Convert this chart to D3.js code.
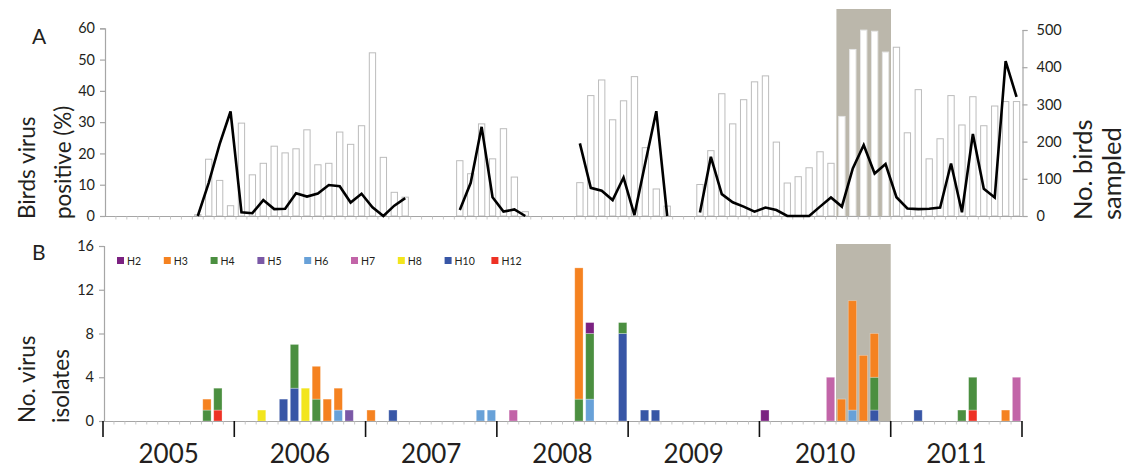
<!DOCTYPE html>
<html><head><meta charset="utf-8">
<script src="https://cdn.jsdelivr.net/npm/d3@7"></script>
<style>
html,body{margin:0;padding:0;background:#fff;}
svg{display:block;font-family:Lato,"Open Sans",sans-serif;}
</style></head>
<body><svg id="c" width="1131" height="469"></svg>
<script>
// ---------- DATA ----------
const years = ["2005","2006","2007","2008","2009","2010","2011"];
const nMonths = 84;
// Panel A: birds sampled per month (right axis), null = no sampling
const birdsSampled = [
 null,null,null,null,null,null,null,null,5,154,97,29,251,112,143,189,171,182,233,139,143,227,194,244,
 440,159,65,52,null,null,null,null,150,115,249,155,236,106,13,null,null,null,null,91,325,367,260,311,
 376,185,74,28,null,null,86,177,330,249,314,362,378,200,90,107,131,174,143,269,449,501,498,442,
 455,225,341,155,209,325,246,322,244,297,309,309];
// Panel A: birds virus positive (%) per month (left axis)
const positivePct = [
 null,null,null,null,null,null,null,null,0,10.6,23,33.4,1.2,0.9,5.1,2.2,2.3,7.3,6.2,7.2,9.9,9.5,4.3,7.1,
 2.8,0,3.3,5.7,null,null,null,null,1.9,10.6,28.5,6,1.4,2.1,0,null,null,null,null,23.2,9,8.1,5.1,12.3,
 0.3,17.1,33.5,0,null,null,1.1,18.9,7,4.4,3,1.4,2.7,1.9,0,0,0,3,5.9,3,15.2,22.7,13.6,16.6,
 6,2.4,2.2,2.3,2.7,16.8,1.2,26.2,8.7,5.9,49.5,38.1];
// Highlighted period (month indices, inclusive)
const shadeMonths = [67, 71];
// Panel B: virus isolates per subtype at months with isolates
const subtypes = ["H2","H3","H4","H5","H6","H7","H8","H10","H12"];
const subtypeColors = ["#7b2181","#f58220","#4b8f40","#7a58a6","#68a1d8","#c264a8","#f2e51d","#3856a6","#ee3124"];
const isoMonths = [9,10,14,16,17,18,19,20,21,22,24,26,34,35,37,43,44,47,49,50,60,66,67,68,69,70,74,78,79,82,83];
const isoH2  = [0,0,0,0,0,0,0,0,0,0,0,0,0,0,0,0,1,0,0,0,1,0,0,0,0,0,0,0,0,0,0];
const isoH3  = [1,0,0,0,0,0,3,2,2,0,1,0,0,0,0,12,0,0,0,0,0,0,2,10,6,4,0,0,0,1,0];
const isoH4  = [1,2,0,0,4,0,2,0,0,0,0,0,0,0,0,2,6,1,0,0,0,0,0,0,0,3,0,1,3,0,0];
const isoH5  = [0,0,0,0,0,0,0,0,0,1,0,0,0,0,0,0,0,0,0,0,0,0,0,0,0,0,0,0,0,0,0];
const isoH6  = [0,0,0,0,0,0,0,0,1,0,0,0,1,1,0,0,2,0,0,0,0,0,0,1,0,0,0,0,0,0,0];
const isoH7  = [0,0,0,0,0,0,0,0,0,0,0,0,0,0,1,0,0,0,0,0,0,4,0,0,0,0,0,0,0,0,4];
const isoH8  = [0,0,1,0,0,3,0,0,0,0,0,0,0,0,0,0,0,0,0,0,0,0,0,0,0,0,0,0,0,0,0];
const isoH10 = [0,0,0,2,3,0,0,0,0,0,0,1,0,0,0,0,0,8,1,1,0,0,0,0,0,1,1,0,0,0,0];
const isoH12 = [0,1,0,0,0,0,0,0,0,0,0,0,0,0,0,0,0,0,0,0,0,0,0,0,0,0,0,0,1,0,0];
const pctTicks = [0,10,20,30,40,50,60];
const birdTicks = [0,100,200,300,400,500];
const isoTicks = [0,4,8,12,16];

// ---------- BUILD ----------
const svg = d3.select("#c");
const months = d3.range(nMonths);
const isoBySub = {H2:isoH2,H3:isoH3,H4:isoH4,H5:isoH5,H6:isoH6,H7:isoH7,H8:isoH8,H10:isoH10,H12:isoH12};
const color = d3.scaleOrdinal(subtypes, subtypeColors);
const axisGray = "#a6a6a6", txt = "#231f20";

// Panel A scales
const xA = d3.scaleBand(months, [105, 1022]).paddingInner(0.33).paddingOuter(0.165);
const yPct = d3.scaleLinear([0, 60], [216, 28.3]);
const yBird = d3.scaleLinear([0, 500], [216, 30]);
// Panel B scales
const xB = d3.scaleBand(months, [103, 1022]).paddingInner(0.24).paddingOuter(0.12);
const yIso = d3.scaleLinear([0, 16], [421, 246]);

const gA = svg.append("g");
// shading A
gA.append("rect")
  .attr("x", xA(shadeMonths[0]) - xA.step()*xA.paddingInner()/2)
  .attr("width", xA.step()*(shadeMonths[1]-shadeMonths[0]+1))
  .attr("y", 9).attr("height", yPct(0) - 9)
  .attr("fill", "#bbb7ab");

// bars A
gA.selectAll("rect.b").data(months.filter(i => birdsSampled[i] != null)).join("rect")
  .attr("class","b")
  .attr("x", i => xA(i) + 0.5).attr("width", xA.bandwidth() - 1)
  .attr("y", i => yBird(birdsSampled[i]) + 0.5)
  .attr("height", i => Math.max(0, yBird(0) - yBird(birdsSampled[i]) - 0.5))
  .attr("fill", "#fff")
  .attr("stroke", i => (i >= shadeMonths[0] && i <= shadeMonths[1]) ? "#e6e6e6" : "#bcbcbc")
  .attr("stroke-width", 1);

// left axis A
const axL = gA.append("g").attr("transform", "translate(105,0)")
  .call(d3.axisLeft(yPct).tickValues(pctTicks).tickSize(5).tickPadding(5));
// right axis A
const axR = gA.append("g").attr("transform", "translate(1022.5,0)")
  .call(d3.axisRight(yBird).tickValues(birdTicks).tickSize(5).tickPadding(9));
// bottom axis A
gA.append("line").attr("x1", 100).attr("x2", 1022.5).attr("y1", 216.5).attr("y2", 216.5)
  .attr("stroke", axisGray).attr("stroke-width", 1.2);
gA.selectAll("line.mt").data(d3.range(1, nMonths)).join("line").attr("class","mt")
  .attr("x1", k => 105 + k*xA.step()).attr("x2", k => 105 + k*xA.step())
  .attr("y1", 216.5).attr("y2", 219.5).attr("stroke", "#c8c8c8").attr("stroke-width", 1);

[axL, axR].forEach(a => {
  a.select(".domain").attr("stroke", axisGray).attr("stroke-width", 1.2);
  a.selectAll(".tick line").attr("stroke", axisGray).attr("stroke-width", 1.2);
  a.selectAll(".tick text").attr("fill", txt).style("font-size", "14.5px").style("font-family", "Lato, sans-serif");
});

// line A
const line = d3.line()
  .defined(i => positivePct[i] != null)
  .x(i => xA(i) + xA.bandwidth()/2)
  .y(i => yPct(positivePct[i]));
gA.append("path").datum(months).attr("d", line)
  .attr("fill", "none").attr("stroke", "#000").attr("stroke-width", 2.6)
  .attr("stroke-linejoin", "miter");

// labels A
gA.append("text").attr("x", 32).attr("y", 44).text("A")
  .attr("fill", txt).style("font-size", "21px");
const lblA = gA.append("text").attr("transform", "translate(0,219) rotate(-90)")
  .attr("fill", txt).style("font-size", "22.5px");
lblA.append("tspan").attr("x", 0).attr("y", 35).text("Birds virus");
lblA.append("tspan").attr("x", 0).attr("y", 71).text("positive (%)");
const lblR = gA.append("text").attr("transform", "translate(0,220) rotate(-90)")
  .attr("fill", txt).style("font-size", "25.5px");
lblR.append("tspan").attr("x", 0).attr("y", 1092).text("No. birds");
lblR.append("tspan").attr("x", 0).attr("y", 1121).text("sampled");

// ---------- Panel B ----------
const gB = svg.append("g");
gB.append("rect")
  .attr("x", xB(shadeMonths[0]) - xB.step()*xB.paddingInner()/2)
  .attr("width", xB.step()*(shadeMonths[1]-shadeMonths[0]+1))
  .attr("y", 244).attr("height", yIso(0) - 244)
  .attr("fill", "#bbb7ab");

const stackOrder = subtypes.slice().reverse(); // bottom to top: H12 ... H2
const rows = isoMonths.map((m, j) => {
  const r = {month: m};
  subtypes.forEach(s => r[s] = isoBySub[s][j]);
  return r;
});
const series = d3.stack().keys(stackOrder)(rows);
gB.selectAll("g.s").data(series).join("g").attr("class","s")
  .attr("fill", d => color(d.key))
  .selectAll("rect").data(d => d.filter(p => p[1] > p[0])).join("rect")
  .attr("x", p => xB(p.data.month)).attr("width", xB.bandwidth())
  .attr("y", p => yIso(p[1])).attr("height", p => yIso(p[0]) - yIso(p[1]))
  .attr("stroke", "rgba(255,255,255,0.35)").attr("stroke-width", 0.8);

// left axis B
const axB = gB.append("g").attr("transform", "translate(104,0)")
  .call(d3.axisLeft(yIso).tickValues(isoTicks).tickSize(5).tickPadding(5));
axB.select(".domain").attr("stroke", axisGray).attr("stroke-width", 1.2);
axB.selectAll(".tick line").attr("stroke", axisGray).attr("stroke-width", 1.2);
axB.selectAll(".tick text").attr("fill", txt).style("font-size", "14.5px").style("font-family", "Lato, sans-serif");

// bottom axis B
gB.append("line").attr("x1", 100).attr("x2", 1022).attr("y1", 421.5).attr("y2", 421.5)
  .attr("stroke", axisGray).attr("stroke-width", 1.2);
gB.selectAll("line.mt").data(d3.range(1, nMonths).filter(k => k % 12 !== 0)).join("line").attr("class","mt")
  .attr("x1", k => 103 + k*xB.step()).attr("x2", k => 103 + k*xB.step())
  .attr("y1", 421.5).attr("y2", 424.5).attr("stroke", "#c8c8c8").attr("stroke-width", 1);
gB.selectAll("line.yt").data(d3.range(0, years.length + 1)).join("line").attr("class","yt")
  .attr("x1", k => 103 + k*12*xB.step()).attr("x2", k => 103 + k*12*xB.step())
  .attr("y1", 421).attr("y2", 437).attr("stroke", "#111").attr("stroke-width", 1.6);
gB.selectAll("text.yr").data(years).join("text").attr("class","yr")
  .attr("x", (d, k) => 103 + (k*12 + 6)*xB.step()).attr("y", 463)
  .attr("text-anchor", "middle").attr("fill", txt).style("font-size", "26px")
  .text(d => d);

// labels B
gB.append("text").attr("x", 32).attr("y", 260).text("B")
  .attr("fill", txt).style("font-size", "21px");
const lblB = gB.append("text").attr("transform", "translate(0,423) rotate(-90)")
  .attr("fill", txt).style("font-size", "22.5px");
lblB.append("tspan").attr("x", 0).attr("y", 35).text("No. virus");
lblB.append("tspan").attr("x", 0).attr("y", 69).text("isolates");

// legend
const leg = gB.selectAll("g.lg").data(subtypes).join("g").attr("class","lg")
  .attr("transform", (d, k) => `translate(${117 + k*46.8},257)`);
leg.append("rect").attr("width", 7).attr("height", 7).attr("fill", d => color(d));
leg.append("text").attr("x", 10).attr("y", 7.5).text(d => d)
  .attr("fill", txt).style("font-size", "10.5px");
</script></body></html>
